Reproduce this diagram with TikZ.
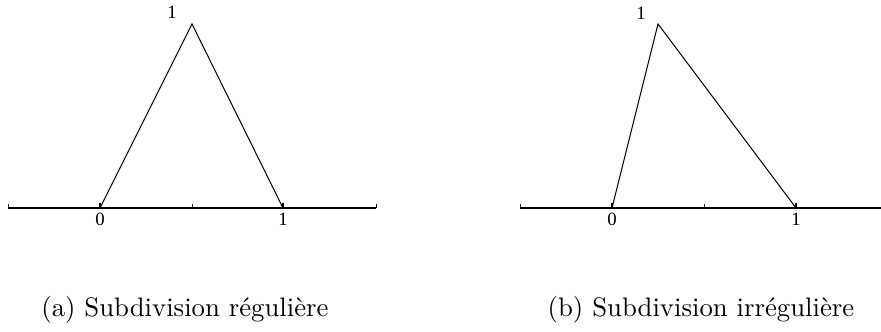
\documentclass[tikz,border=0pt]{standalone}
\usepackage{fontspec}
\newfontfamily\figfont{Liberation Serif}
\usetikzlibrary{positioning}
\tikzset{
  axe/.style={line width=0.6pt},
  graduation/.style={line width=0.4pt},
  graduationb/.style={line width=0.9pt},
  chapeau/.style={line width=0.4pt, line join=miter},
  etiq/.style={font=\figfont\fontsize{7.5}{8}\selectfont, inner sep=1pt},
  legende/.style={font=\fontsize{10.7}{13}\selectfont, inner sep=0pt}
}

\begin{document}
\begin{tikzpicture}[x=0.4pt, y=-0.4pt]
  \useasboundingbox (0,0) rectangle (881,332);
  % (a) subdivision reguliere
  \coordinate (ga) at (8,208);
  \coordinate (da) at (376,208);
  \coordinate (a0) at (100,208);
  \coordinate (a1) at (283,208);
  \coordinate (asom) at (192,24);
  \draw[axe] (ga) -- (da);
  \foreach \x in {8,192,376}
    \draw[graduation] (\x,208) -- ++(0,-4);
  \draw[graduationb] (a0) -- ++(0,-5);
  \draw[graduationb] (a1) -- ++(0,-5);
  \draw[chapeau] (a0) -- (asom) -- (a1);
  \node[etiq, below=1pt of a0] (la0) {0};
  \node[etiq, below=1pt of a1] (la1) {1};
  \node[etiq] (lasom) at (172,12) {1};
  \node[legende] (capa) at (185,310) {(a) Subdivision régulière};
  % (b) subdivision irreguliere
  \coordinate (gb) at (520,208);
  \coordinate (db) at (888,208);
  \coordinate (b0) at (612,208);
  \coordinate (b1) at (796,208);
  \coordinate (bsom) at (658,24);
  \draw[axe] (gb) -- (db);
  \foreach \x in {520,704,888}
    \draw[graduation] (\x,208) -- ++(0,-4);
  \draw[graduationb] (b0) -- ++(0,-5);
  \draw[graduationb] (b1) -- ++(0,-5);
  \draw[chapeau] (b0) -- (bsom) -- (b1);
  \node[etiq, below=1pt of b0] (lb0) {0};
  \node[etiq, below=1pt of b1] (lb1) {1};
  \node[etiq] (lbsom) at (641,13) {1};
  \node[legende] (capb) at (701,310) {(b) Subdivision irrégulière};
\end{tikzpicture}
\end{document}
